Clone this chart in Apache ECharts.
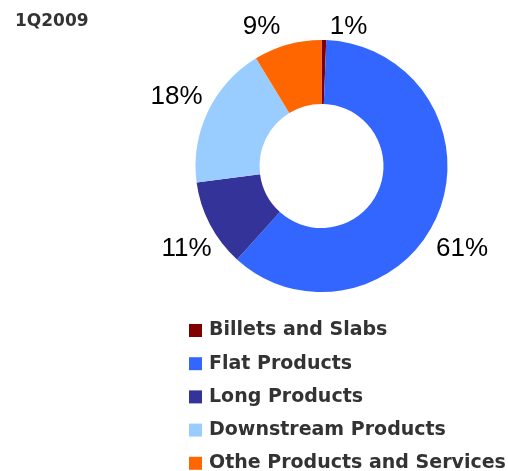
<!DOCTYPE html>
<html>
<head>
<meta charset="utf-8">
<script src="https://cdn.jsdelivr.net/npm/echarts@6/dist/echarts.min.js"></script>
<style>
  html, body { margin: 0; padding: 0; background: #fff; }
  #chart { width: 508px; height: 471px; }
</style>
</head>
<body>
<div id="chart"></div>
<script>
// data (share of sales, %)
const categories = ['Billets and Slabs', 'Flat Products', 'Long Products', 'Downstream Products', 'Othe Products and Services'];
const shares = [0.6, 61.1, 11.2, 18.4, 8.7];
const colors = ['#800000', '#3366ff', '#333399', '#99ccff', '#ff6600'];

// label placement, relative to the pie centre
const CX = 321.5, CY = 166;
const labelOffsets = [[27, -139], [140.5, 83], [-135, 83], [-145, -69], [-60, -139]];

const chart = echarts.init(document.getElementById('chart'));

chart.setOption({
  animation: false,
  color: colors,
  title: {
    text: '1Q2009',
    left: 10,
    top: 8,
    textStyle: { fontFamily: 'DejaVu Sans', fontWeight: 'bold', fontSize: 17, color: '#333' }
  },
  legend: {
    orient: 'vertical',
    left: 189,
    top: 321,
    width: 320,
    height: 200,
    padding: 0,
    itemWidth: 13,
    itemHeight: 13,
    itemGap: 14.2,
    icon: 'rect',
    data: categories,
    textStyle: { fontFamily: 'DejaVu Sans', fontWeight: 'bold', fontSize: 19, color: '#333', padding: [0, 0, 0, 2] }
  },
  series: [{
    type: 'pie',
    center: [CX, CY],
    radius: [62, 126],
    startAngle: 90,
    clockwise: true,
    avoidLabelOverlap: false,
    itemStyle: { borderWidth: 0 },
    label: {
      position: 'outside',
      fontFamily: 'Liberation Sans, Arial, sans-serif',
      fontSize: 26,
      color: '#000',
      formatter: p => Math.round(p.value) + '%'
    },
    labelLine: { show: false },
    labelLayout: p => {
      const o = labelOffsets[p.dataIndex];
      return { x: CX + o[0], y: CY + o[1], align: 'center', verticalAlign: 'middle' };
    },
    emphasis: { disabled: true },
    data: categories.map((name, i) => ({ name: name, value: shares[i] }))
  }]
});
</script>
</body>
</html>
